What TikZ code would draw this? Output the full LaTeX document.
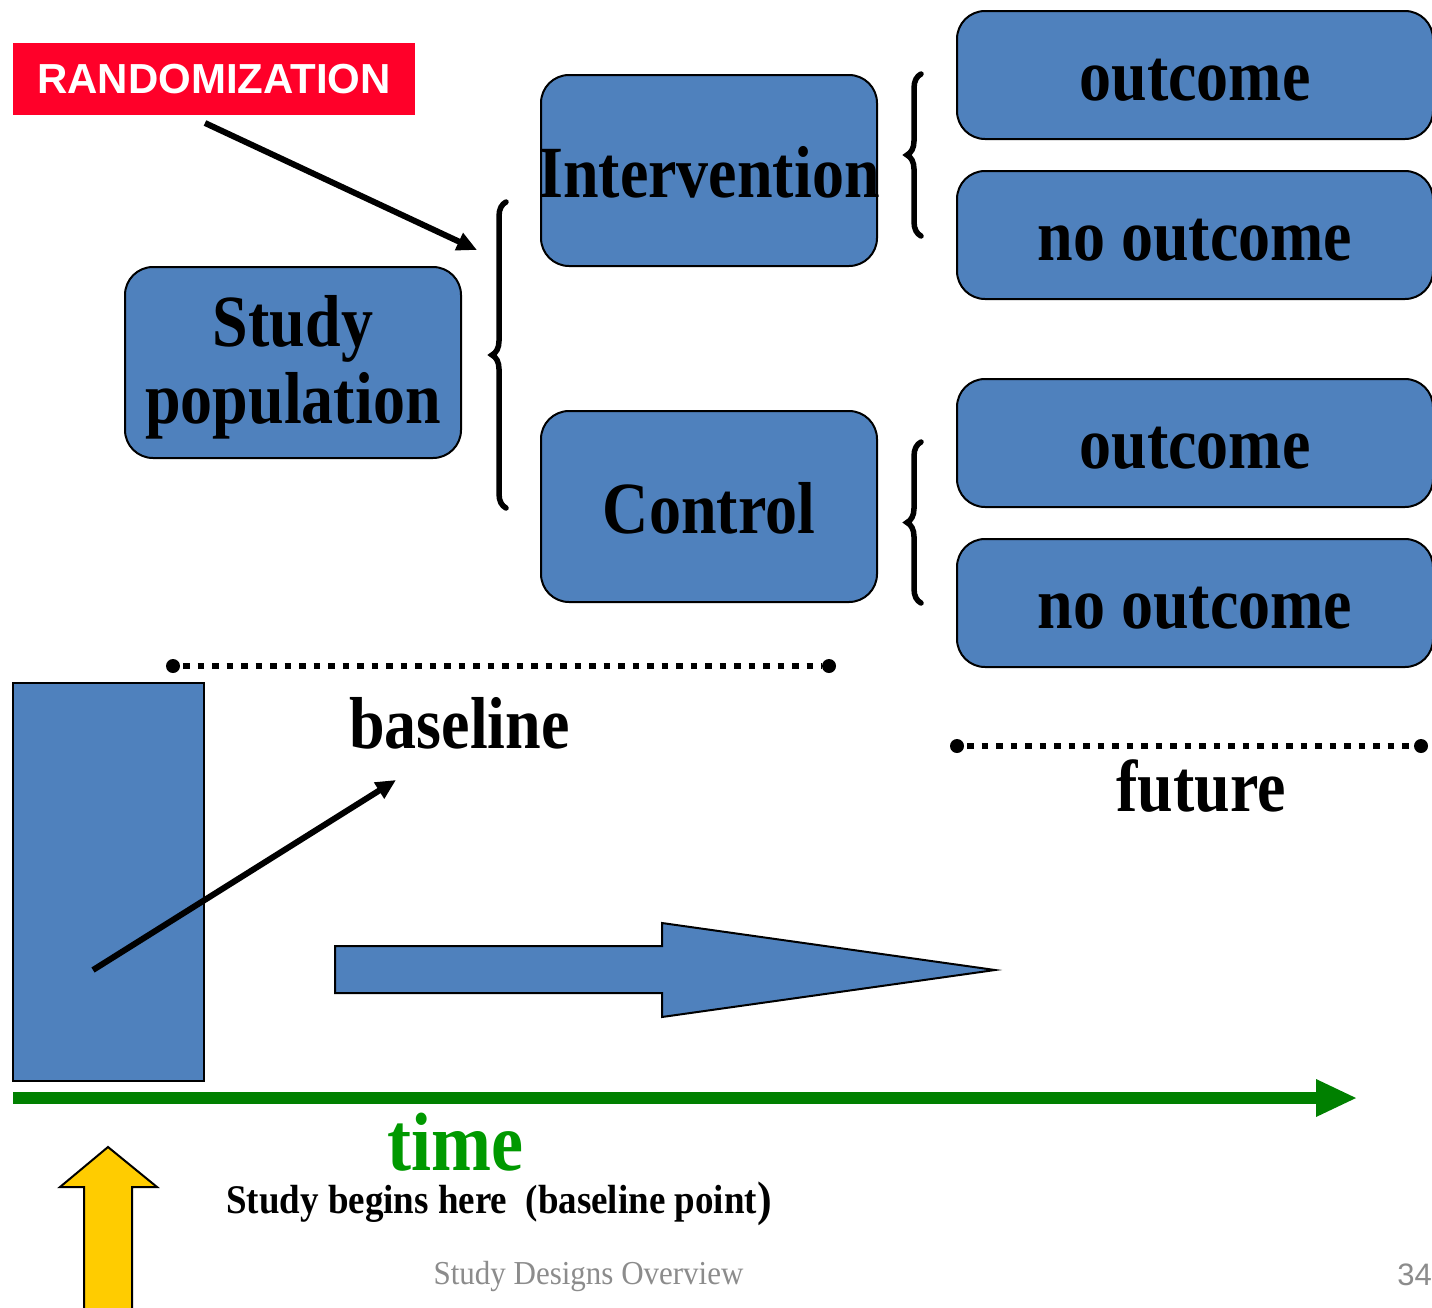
\documentclass[tikz,border=0pt]{standalone}
\usepackage{fontspec}
\usepackage{graphicx}
\setmainfont{Liberation Serif}
\newfontfamily\arialfont{Liberation Sans}
\usetikzlibrary{arrows.meta,decorations.pathreplacing}
\definecolor{boxblue}{HTML}{4F81BD}
\definecolor{randred}{HTML}{FF0029}
\definecolor{timeline}{HTML}{008000}
\definecolor{timetext}{HTML}{009900}
\definecolor{footgray}{HTML}{8C8C8C}
\definecolor{yellowarrow}{HTML}{FFCC00}
\newcommand{\tallbf}[2]{{\fontsize{#1}{#1}\selectfont\bfseries\makebox[0pt][c]{\scalebox{1}[1.15]{#2}}}}
\newcommand{\lowbf}[3]{\raisebox{-#1}[\height][\depth]{\tallbf{#2}{#3}}}
\newcommand{\tallword}[1]{\raisebox{-5pt}[\height][\depth]{\scalebox{1}[1.15]{#1}}}
\tikzset{
  roundbox/.style={draw=black, line width=2pt, fill=boxblue, rounded corners=28pt, inner sep=0pt},
  plainbox/.style={draw=black, line width=2pt, fill=boxblue, inner sep=0pt},
  thickarrow/.style={line width=6pt, -{Triangle[length=20pt,width=18pt]}},
  bracestyle/.style={line width=5.5pt, line cap=round, decorate, decoration={brace, amplitude=14pt}},
  dotline/.style={line width=6.5pt, dash pattern=on 6.5pt off 8pt},
  enddot/.style={circle, fill=black, inner sep=0pt, minimum size=14pt},
  lbl/.style={inner sep=0pt, anchor=base}
}
\begin{document}
\begin{tikzpicture}[x=1pt,y=-1pt]
\useasboundingbox (0,0) rectangle (1432,1307);
\clip (0,0) rectangle (1432,1307);
\fill[white] (0,0) rectangle (1432,1307);

% randomization label
\node[fill=randred, minimum width=402pt, minimum height=72pt, inner sep=0pt] (rand) at (214,79)
  {\arialfont\fontsize{42}{42}\selectfont\bfseries\color{white}RANDOMIZATION};
\coordinate (r1) at (205,123);
\coordinate (r2) at (477,250);
\draw[thickarrow] (r1) -- (r2);

% main boxes
\node[roundbox, minimum width=336pt, minimum height=191pt, align=center,
      font=\fontsize{64}{77}\selectfont\bfseries] (study) at (293,362.5)
  {\tallword{Study}\\\tallword{population}};
\node[roundbox, minimum width=336pt, minimum height=191pt] (interv) at (709,170.5)
  {\lowbf{2pt}{64}{Intervention}};
\node[roundbox, minimum width=336pt, minimum height=191pt] (control) at (709,506.5)
  {\lowbf{2pt}{64}{Control}};

% outcome boxes
\node[roundbox, minimum width=476pt, minimum height=128pt] (o1) at (1195,75) {\lowbf{5pt}{64}{outcome}};
\node[roundbox, minimum width=476pt, minimum height=128pt] (n1) at (1195,235) {\lowbf{5pt}{64}{no outcome}};
\node[roundbox, minimum width=476pt, minimum height=128pt] (o2) at (1195,443) {\lowbf{5pt}{64}{outcome}};
\node[roundbox, minimum width=476pt, minimum height=128pt] (n2) at (1195,603) {\lowbf{5pt}{64}{no outcome}};

% braces
\coordinate (b1s) at (506,508);
\coordinate (b1e) at (506,202);
\draw[bracestyle] (b1s) -- (b1e);
\coordinate (b2s) at (921,236);
\coordinate (b2e) at (921,74);
\draw[bracestyle] (b2s) -- (b2e);
\coordinate (b3s) at (921,603);
\coordinate (b3e) at (921,442);
\draw[bracestyle] (b3s) -- (b3e);

% dotted lines
\node[enddot] (d1a) at (173,666) {};
\node[enddot] (d1b) at (829,666) {};
\draw[dotline] (d1a.center) ++(10,0) -- (d1b.west);
\node[enddot] (d2a) at (957,746) {};
\node[enddot] (d2b) at (1421,746) {};
\draw[dotline] (d2a.center) ++(10,0) -- (d2b.west);

\node[lbl] (baseline) at (459.5,748) {\tallbf{64}{baseline}};
\node[lbl] (future) at (1201,811) {\tallbf{64}{future}};

% population block
\node[plainbox, minimum width=191pt, minimum height=398pt] (pop) at (108.5,882) {};
\coordinate (p1) at (93,970);
\coordinate (p2) at (396,780);
\draw[thickarrow] (p1) -- (p2);

% block arrow
\draw[line width=2pt, fill=boxblue, line join=miter]
  (335,946) -- (662,946) -- (662,923) -- (995,970) -- (662,1017) -- (662,993) -- (335,993) -- cycle;

% time axis
\coordinate (t1) at (13,1098);
\coordinate (t2) at (1320,1098);
\draw[timeline, line width=12pt] (t1) -- (t2);
\fill[timeline] (1316,1079) -- (1356,1098) -- (1316,1117) -- cycle;
\node[lbl] (time) at (455.5,1170) {\color{timetext}\tallbf{72}{time}};
\node[lbl] (begins) at (499,1213)
  {\fontsize{37}{37}\selectfont\bfseries\scalebox{1}[1.1]{Study begins here\ \ (baseline point\raisebox{-2pt}{\fontsize{44}{44}\selectfont )}}};

% yellow arrow
\draw[line width=2pt, fill=yellowarrow, line join=miter]
  (84,1320) -- (84,1187) -- (60,1187) -- (108,1147) -- (157,1187) -- (132,1187) -- (132,1320) -- cycle;

% footer
\node[lbl] (footer) at (588.5,1284) {\color{footgray}\fontsize{31}{31}\selectfont\scalebox{1.0}[1.08]{Study Designs Overview}};
\node[inner sep=0pt, anchor=base east] (page) at (1432,1285) {\color{footgray}\arialfont\fontsize{31}{31}\selectfont 34};
\end{tikzpicture}
\end{document}
